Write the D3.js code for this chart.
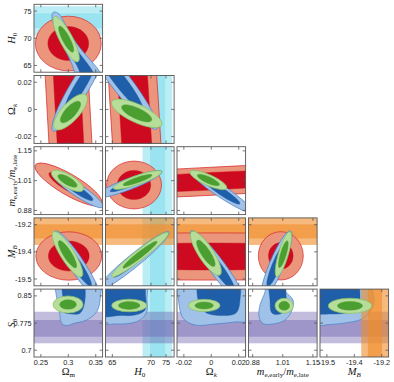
<!DOCTYPE html>
<html><head><meta charset="utf-8">
<script src="https://cdn.jsdelivr.net/npm/d3@7"></script>
<style>body{margin:0;background:#fff} svg{display:block}</style>
</head><body>
<svg id="c" width="394" height="382"></svg>
<script>
// ---------- data ----------
const paramKeys = ["Om","H0","Ok","me","MB","S8"];
const paramLo = [0.2375, 63.75, -0.025, 0.86125, -19.5375, 0.68125];
const paramHi = [0.3625, 76.25, 0.025, 1.16875, -19.1625, 0.86875];
const paramTicks = [[0.25,0.3,0.35],[65,70,75],[-0.02,0,0.02],[0.88,1.015,1.15],[-19.5,-19.35,-19.2],[0.7,0.775,0.85]];
const paramTickLabels = [["0.25","0.3","0.35"],["65","70","75"],["-0.02","0","0.02"],["0.88","1.01","1.15"],["-19.5","-19.4","-19.2"],["0.7","0.775","0.85"]];
// bottom-axis ticks of H0 as drawn in the figure (labels 65, 70, 75)
const h0BottomTicks = [65, 72.04, 74.77];
const xParams = ["Om","H0","Ok","me","MB"];
const yParams = ["H0","Ok","me","MB","S8"];

// external priors: [1σ lo, 1σ hi, 2σ lo, 2σ hi]
const h0Band = [71.85, 74.6, 70.5, 75.9];
const mbBand = [-19.276, -19.198, -19.312, -19.16];
const s8Band = [0.7373, 0.7834, 0.7191, 0.8063];

// contours as ellipses: [xKey, yKey, centerX, centerY, outerTipX, outerTipY, minor/major, inner/outer]
const redEllipses = [
 ["Om","H0", 0.300, 69.03, 0.360, 69.03, 0.83, 0.62],
 ["Om","Ok", 0.3005, 0.0, 0.2313, 0.500, 0.0316, 0.62],
 ["H0","Ok", 69.05, 0.0, 61.40, 0.500, 0.0356, 0.62],
 ["Om","me", 0.3004, 0.9976, 0.3609, 0.9093, 0.27, 0.58],
 ["H0","me", 68.94, 0.9953, 73.95, 0.9953, 0.87, 0.61],
 ["Ok","me", 0.0, 1.0123, 0.25, 1.0915, 0.0408, 0.62],
 ["Om","MB", 0.3009, -19.3729, 0.3609, -19.3729, 0.735, 0.62],
 ["Ok","MB", 0.0, -19.3757, 0.25, -19.3757, 0.0688, 0.57],
 ["me","MB", 1.0060, -19.3721, 1.0060, -19.2387, 0.93, 0.55]
];
const blueEllipses = [
 ["Om","Ok", 0.3210, 0.01683, 0.3698, 0.0495, 0.18, 0.55],
 ["H0","Ok", 66.41, 0.02106, 73.13, -0.0144, 0.165, 0.6],
 ["Om","me", 0.3168, 0.9727, 0.3632, 0.8957, 0.2, 0.6],
 ["H0","me", 67.94, 0.9987, 74.05, 1.0564, 0.155, 0.55],
 ["Ok","me", 0.00743, 0.9659, -0.0148, 1.0587, 0.16, 0.6],
 ["Om","MB", 0.3168, -19.4254, 0.2758, -19.2348, 0.18, 0.6],
 ["H0","MB", 68.85, -19.4005, 75.32, -19.2404, 0.14, 0.55],
 ["Ok","MB", 0.00488, -19.4392, -0.0148, -19.2348, 0.175, 0.6],
 ["me","MB", 0.9856, -19.4254, 1.0495, -19.2348, 0.19, 0.6]
];
const greenEllipses = [
 ["Om","H0", 0.2961, 69.83, 0.3177, 65.68, 0.256, 0.575],
 ["Om","Ok", 0.3040, -0.00188, 0.3323, 0.01064, 0.39, 0.6],
 ["H0","Ok", 69.44, -0.00287, 73.99, -0.01145, 0.33, 0.6],
 ["Om","me", 0.2985, 1.0141, 0.3273, 0.9727, 0.35, 0.6],
 ["H0","me", 69.58, 1.0179, 73.99, 1.0555, 0.18, 0.6],
 ["Ok","me", -0.00215, 1.0179, 0.01122, 0.9804, 0.27, 0.6],
 ["Om","MB", 0.2985, -19.3630, 0.3244, -19.4872, 0.26, 0.6],
 ["H0","MB", 70.04, -19.3657, 75.19, -19.2442, 0.14, 0.6],
 ["Ok","MB", -0.00397, -19.3583, 0.00634, -19.4778, 0.29, 0.6],
 ["me","MB", 1.0175, -19.3630, 0.9877, -19.4872, 0.21, 0.6],
 ["Om","S8", 0.2995, 0.8262, 0.3268, 0.8262, 0.57, 0.56],
 ["H0","S8", 68.07, 0.8235, 71.26, 0.8235, 0.36, 0.62],
 ["Ok","S8", -0.00521, 0.8235, 0.00634, 0.8235, 0.39, 0.58],
 ["me","S8", 1.0211, 0.8226, 1.0621, 0.8226, 0.82, 0.6],
 ["MB","S8", -19.3735, 0.8226, -19.2549, 0.8226, 0.35, 0.58]
];
// irregular blue contours, keyed "x|y": outer and inner outlines in data units
const blueOuter = {
 "Om|H0": [[0.2739,74.83],[0.2831,74.46],[0.2922,72.99],[0.3031,70.97],[0.3159,68.94],[0.3304,67.10],[0.3450,65.44],[0.3578,63.79],[0.3651,62.31],[0.3140,62.31],[0.3104,64.16],[0.3031,66.00],[0.2922,68.20],[0.2812,70.60],[0.2721,72.99],[0.2703,74.28]],
 "Om|S8": [[0.2800,0.8939],[0.2794,0.8387],[0.2836,0.8111],[0.2880,0.7743],[0.2971,0.7682],[0.3122,0.7751],[0.3335,0.7834],[0.3518,0.8063],[0.3578,0.8387],[0.3559,0.8939]],
 "H0|S8": [[62.75,0.8939],[62.75,0.7751],[65.48,0.7724],[68.21,0.7743],[70.04,0.7834],[71.26,0.8055],[71.31,0.8387],[70.95,0.8939]],
 "Ok|S8": [[-0.02405,0.8939],[-0.02391,0.8387],[-0.02063,0.7889],[-0.01188,0.7696],[0.00270,0.7724],[0.01727,0.7779],[0.02821,0.7834],[0.02967,0.8939]],
 "me|S8": [[0.9442,0.8939],[0.9353,0.8608],[0.9128,0.8249],[0.9083,0.7945],[0.9262,0.7737],[0.9711,0.7724],[1.0249,0.7834],[1.0563,0.8110],[1.0607,0.8387],[1.0204,0.8663],[1.0069,0.8939]],
 "MB|S8": [[-19.5648,0.8939],[-19.5648,0.7724],[-19.4828,0.7710],[-19.4008,0.7751],[-19.3079,0.7861],[-19.2696,0.8027],[-19.2423,0.8304],[-19.2533,0.8690],[-19.2642,0.8939]]
};
const blueInner = {
 "Om|H0": [[0.2849,72.99],[0.2958,71.15],[0.3086,68.94],[0.3213,67.10],[0.3341,65.44],[0.3450,63.79],[0.3505,62.31],[0.3250,62.31],[0.3195,64.16],[0.3122,65.63],[0.3013,67.47],[0.2885,69.68],[0.2812,71.52]],
 "Om|S8": [[0.2909,0.8939],[0.2903,0.8387],[0.2909,0.8063],[0.3067,0.7999],[0.3213,0.8019],[0.3304,0.8387],[0.3250,0.8939]],
 "H0|S8": [[62.75,0.8939],[62.75,0.7972],[66.39,0.7958],[69.13,0.7972],[70.95,0.8110],[71.04,0.8525],[70.58,0.8939]],
 "Ok|S8": [[-0.00824,0.8939],[-0.00969,0.8387],[-0.00459,0.8055],[0.00634,0.7958],[0.01800,0.8027],[0.02092,0.8387],[0.01946,0.8939]],
 "me|S8": [[0.9576,0.8939],[0.9576,0.8387],[0.9666,0.8027],[1.0024,0.7999],[1.0294,0.8166],[1.0294,0.8525],[1.0204,0.8939]],
 "MB|S8": [[-19.5648,0.8939],[-19.5648,0.8055],[-19.4828,0.8000],[-19.3735,0.8055],[-19.3298,0.8221],[-19.3188,0.8525],[-19.3407,0.8939]]
};

// ---------- layout ----------
const X0 = 34, Y0 = 4.3, SX = 71.5, SY = 71.2, PW = 68.6, PH = 67.9;
const C = {
  salmon:"#ea957c", redEdge:"#d7262c", red:"#cd0a1f",
  blueL:"#a0c2e9", blueEdge:"#4a83c6", blueD:"#1f5ea8",
  greenL:"#b7dd9b", greenEdge:"#86c262", greenD:"#4b9f31",
  cyan:"rgba(120,220,235,0.5)", orange:"rgba(240,140,40,0.6)", purple:"rgba(110,95,175,0.42)",
  frame:"#555"
};
const TICKFONT = "Liberation Sans, Arial, sans-serif";
const TFS = 7.3;
const svg = d3.select("#c");
const idx = k => paramKeys.indexOf(k);

function band(g, vals, orient, xs, ys, color) {
  [[vals[2],vals[3]],[vals[0],vals[1]]].forEach(([lo,hi]) => {
    if (orient === "v") {
      g.append("rect").attr("x", xs(lo)).attr("width", xs(hi)-xs(lo))
       .attr("y", ys.range()[1]-5).attr("height", PH+10).attr("fill", color);
    } else {
      g.append("rect").attr("y", ys(hi)).attr("height", ys(lo)-ys(hi))
       .attr("x", xs.range()[0]-5).attr("width", PW+10).attr("fill", color);
    }
  });
}
function ellipse(g, rec, xs, ys, fO, sO, fI) {
  const cx = xs(rec[2]), cy = ys(rec[3]), tx = xs(rec[4]), ty = ys(rec[5]);
  const A = Math.hypot(tx-cx, ty-cy), ang = Math.atan2(ty-cy, tx-cx)*180/Math.PI;
  const tr = `translate(${cx},${cy}) rotate(${ang})`;
  g.append("ellipse").attr("rx", A).attr("ry", A*rec[6]).attr("transform", tr)
   .attr("fill", fO).attr("stroke", sO).attr("stroke-width", 0.7);
  g.append("ellipse").attr("rx", A*rec[7]).attr("ry", A*rec[6]*rec[7]).attr("transform", tr)
   .attr("fill", fI).attr("stroke", fI).attr("stroke-width", 0.4);
}

for (let r = 0; r < yParams.length; r++) {
  for (let c = 0; c <= r; c++) {
    const xk = xParams[c], yk = yParams[r];
    const xi = idx(xk), yi = idx(yk);
    const px = X0 + c*SX, py = Y0 + r*SY;
    const xs = d3.scaleLinear().domain([paramLo[xi], paramHi[xi]]).range([px, px+PW]);
    const ys = d3.scaleLinear().domain([paramLo[yi], paramHi[yi]]).range([py+PH, py]);
    const cid = `clip${r}${c}`;
    svg.append("clipPath").attr("id", cid).append("rect")
      .attr("x", px).attr("y", py).attr("width", PW).attr("height", PH);
    const g = svg.append("g").attr("clip-path", `url(#${cid})`);
    const key = xk + "|" + yk;

    if (xk === "H0") band(g, h0Band, "v", xs, ys, C.cyan);
    if (yk === "H0") band(g, h0Band, "h", xs, ys, C.cyan);
    if (yk === "MB") band(g, mbBand, "h", xs, ys, C.orange);
    if (yk === "S8") band(g, s8Band, "h", xs, ys, C.purple);

    redEllipses.filter(e => e[0]===xk && e[1]===yk).forEach(e => ellipse(g, e, xs, ys, C.salmon, C.redEdge, C.red));
    blueEllipses.filter(e => e[0]===xk && e[1]===yk).forEach(e => ellipse(g, e, xs, ys, C.blueL, C.blueEdge, C.blueD));
    if (blueOuter[key]) {
      const line = d3.line().x(d => xs(d[0])).y(d => ys(d[1])).curve(d3.curveCatmullRomClosed.alpha(0.5));
      g.append("path").attr("d", line(blueOuter[key])).attr("fill", C.blueL).attr("stroke", C.blueEdge).attr("stroke-width", 0.7);
      g.append("path").attr("d", line(blueInner[key])).attr("fill", C.blueD).attr("stroke", C.blueD).attr("stroke-width", 0.4);
    }
    if (xk === "MB") band(g, mbBand, "v", xs, ys, C.orange);
    greenEllipses.filter(e => e[0]===xk && e[1]===yk).forEach(e => ellipse(g, e, xs, ys, C.greenL, C.greenEdge, C.greenD));

    // frame & ticks
    svg.append("rect").attr("x", px).attr("y", py).attr("width", PW).attr("height", PH)
      .attr("fill", "none").attr("stroke", C.frame).attr("stroke-width", 0.9);
    const tk = svg.append("g").attr("stroke", C.frame).attr("stroke-width", 0.8);
    const xTicks = xk === "H0" ? h0BottomTicks : paramTicks[xi];
    xTicks.forEach(t => {
      tk.append("line").attr("x1", xs(t)).attr("x2", xs(t)).attr("y1", py+PH).attr("y2", py+PH-3);
      tk.append("line").attr("x1", xs(t)).attr("x2", xs(t)).attr("y1", py).attr("y2", py+3);
    });
    paramTicks[yi].forEach(t => {
      tk.append("line").attr("y1", ys(t)).attr("y2", ys(t)).attr("x1", px).attr("x2", px+3);
      tk.append("line").attr("y1", ys(t)).attr("y2", ys(t)).attr("x1", px+PW).attr("x2", px+PW-3);
    });
    if (r === yParams.length-1) {
      xTicks.forEach((t, i) => {
        svg.append("text").attr("x", xs(t)).attr("y", py+PH+7.5).attr("text-anchor", "middle")
          .attr("font-family", TICKFONT).attr("font-size", TFS).attr("fill", "#222")
          .text(paramTickLabels[xi][i]);
      });
    }
    if (c === 0) {
      paramTicks[yi].forEach((t, i) => {
        svg.append("text").attr("x", px-2.3).attr("y", ys(t)+2.6).attr("text-anchor", "end")
          .attr("font-family", TICKFONT).attr("font-size", TFS).attr("fill", "#222")
          .text(paramTickLabels[yi][i]);
      });
    }
  }
}

// axis labels
const labelParts = {
  Om: [["Ω","n",0],["m","n",1]],
  H0: [["H","i",0],["0","n",1]],
  Ok: [["Ω","n",0],["k","i",1]],
  me: [["m","i",0],["e,early","n",1],["/","n",0],["m","i",0],["e,late","n",1]],
  MB: [["M","i",0],["B","i",1]],
  S8: [["S","i",0],["8","n",1]]
};
const LBL = 10.5, SUB = 7;
function label(sel, key) {
  const t = sel.append("text").attr("font-family", "Liberation Serif, DejaVu Serif, serif")
    .attr("font-size", LBL).attr("fill", "#111").attr("text-anchor", "middle");
  let prevSub = 0;
  labelParts[key].forEach(([s, st, sub]) => {
    const sp = t.append("tspan").text(s).attr("font-style", st === "i" ? "italic" : "normal")
      .attr("font-size", sub ? SUB : LBL);
    const dy = (sub ? 2.2 : 0) - (prevSub ? 2.2 : 0);
    if (dy) sp.attr("dy", dy);
    prevSub = sub;
  });
  return t;
}
xParams.forEach((k, c) => {
  label(svg, k).attr("x", X0 + c*SX + PW/2).attr("y", 375);
});
yParams.forEach((k, r) => {
  label(svg, k).attr("transform", `translate(14.5,${Y0 + r*SY + PH/2}) rotate(-90)`);
});
</script>
</body></html>
